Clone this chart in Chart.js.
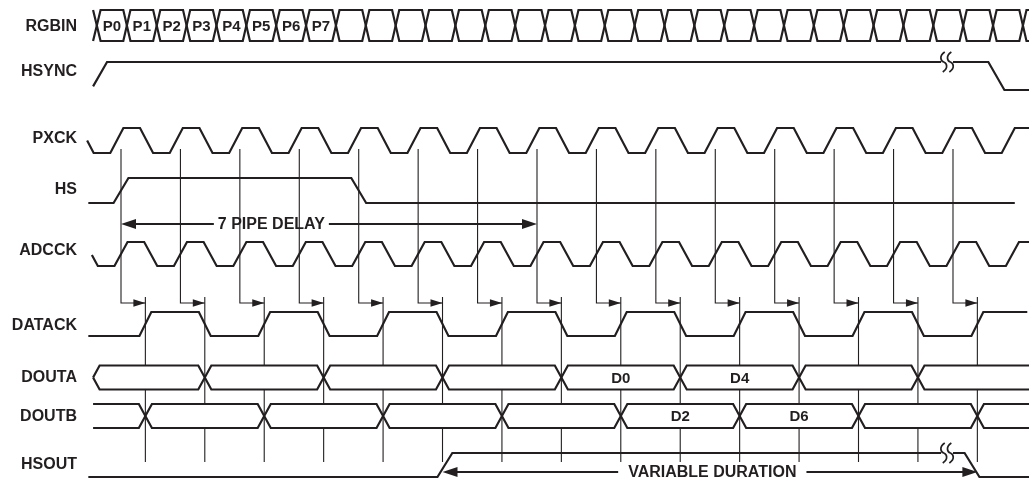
<!DOCTYPE html>
<html>
<head>
<meta charset="utf-8">
<script src="https://cdn.jsdelivr.net/npm/chart.js@4.4.1/dist/chart.umd.min.js"></script>
<style>
  html, body { margin: 0; padding: 0; background: #fff; }
  #wrap { width: 1029px; height: 481px; }
</style>
</head>
<body>
<div id="wrap"><canvas id="timing"></canvas></div>
<script>
// ---- data: times are in PXCK periods, 0 = PXCK edge that samples HS ----
const signals = ['RGBIN', 'HSYNC', 'PXCK', 'HS', 'ADCCK', 'DATACK', 'DOUTA', 'DOUTB', 'HSOUT'];
const cycles = [-1, 0, 1, 2, 3, 4, 5, 6, 7, 8, 9, 10, 11, 12, 13, 14, 15, 16];
const pipeCycles = [0, 1, 2, 3, 4, 5, 6, 7, 8, 9, 10, 11, 12, 13, 14]; // PXCK -> DATACK arrows
const pxckRise = -0.07, pxckFall = 0.43;
const adcckRise = 0, adcckFall = 0.5;
const datackDelay = 0.41;
const hsEdges = [0, 4];
const hsyncEdges = [-0.37, 14.73];
const hsoutEdges = [5.45, 14.32];
const doutaEdges = [1, 3, 5, 7, 9, 11, 13];      // DATACK cycles where DOUTA changes
const doutbEdges = [0, 2, 4, 6, 8, 10, 12, 14];  // DATACK cycles where DOUTB changes
const doutaLabels = ['', '', '', '', 'D0', 'D4', '', ''];
const doutbLabels = ['', '', '', '', '', 'D2', 'D6', '', ''];
const rgbinLabels = ['P0', 'P1', 'P2', 'P3', 'P4', 'P5', 'P6', 'P7'];
const rgbinFirst = -0.404, rgbinStep = 0.5026, rgbinCount = 32;
const pipeDelay = 7;
const breakAt = 13.9;

// ---- layout ----
const X_MIN = -0.589, X_MAX = 15.279;
const rows = {          // [high, low] on the y scale
  RGBIN: [10, 41], HSYNC: [62, 90], PXCK: [128, 153], HS: [178, 203], ADCCK: [242, 266],
  DATACK: [312, 336], DOUTA: [365.5, 389.5], DOUTB: [404, 428], HSOUT: [453, 477]
};
const labelY = [27, 72, 139, 190, 251, 326, 378, 417, 465];
const INK = '#231f20';
const FONT = '"Liberation Sans", Arial, Helvetica, sans-serif';

function ramps(row, level0, edges, ramp) {
  const [hi, lo] = rows[row];
  let l = level0;
  const pts = [{ x: -10, y: l ? hi : lo }];
  for (const e of edges) {
    pts.push({ x: e - ramp / 2, y: l ? hi : lo });
    l = 1 - l;
    pts.push({ x: e + ramp / 2, y: l ? hi : lo });
  }
  pts.push({ x: 30, y: l ? hi : lo });
  return pts;
}

function clip(pts, t0, t1) {
  const at = t => {
    for (let i = 1; i < pts.length; i++) {
      const a = pts[i - 1], b = pts[i];
      if (t <= b.x) {
        const f = b.x === a.x ? 0 : (t - a.x) / (b.x - a.x);
        return { x: t, y: a.y + (b.y - a.y) * f };
      }
    }
    return { x: t, y: pts[pts.length - 1].y };
  };
  return [at(t0), ...pts.filter(p => p.x > t0 && p.x < t1), at(t1)];
}

function withBreak(pts, t0, t1, gap) {
  return [...clip(pts, t0, breakAt - gap), { x: breakAt, y: null }, ...clip(pts, breakAt + gap, t1)];
}

function bus(row, t0, t1, edges, h, pointed) {
  const [top, bot] = rows[row];
  const mid = (top + bot) / 2;
  const a = [], b = [];
  if (pointed) {
    a.push({ x: t0, y: mid }, { x: t0 + h, y: top });
    b.push({ x: t0, y: mid }, { x: t0 + h, y: bot });
  } else {
    a.push({ x: t0, y: top });
    b.push({ x: t0, y: bot });
  }
  let up = true;
  for (const e of edges) {
    a.push({ x: e - h, y: up ? top : bot }, { x: e + h, y: up ? bot : top });
    b.push({ x: e - h, y: up ? bot : top }, { x: e + h, y: up ? top : bot });
    up = !up;
  }
  a.push({ x: t1, y: up ? top : bot });
  b.push({ x: t1, y: up ? bot : top });
  return [a, b];
}

const pxckEdges = cycles.flatMap(k => [k + pxckRise, k + pxckFall]);
const adcckEdges = cycles.flatMap(k => [k + adcckRise, k + adcckFall]);
const datackEdges = pipeCycles.map(k => k + datackDelay);
const rgbinEdges = Array.from({ length: rgbinCount }, (_, i) => rgbinFirst + i * rgbinStep);
const doutaT = doutaEdges.map(k => k + datackDelay);
const doutbT = doutbEdges.map(k => k + datackDelay);

// guide lines: PXCK edge down to the arrow, DATACK edge down through the outputs
const pxckGuides = [];
pipeCycles.forEach(k => {
  pxckGuides.push({ x: k, y: 149 }, { x: k, y: 303 }, { x: k + datackDelay, y: 303 }, { x: k, y: null });
});
const datackGuides = [];
pipeCycles.forEach(k => {
  const x = k + datackDelay;
  datackGuides.push({ x, y: 297 });
  if (!doutaEdges.includes(k)) {
    datackGuides.push({ x, y: rows.DOUTA[0] }, { x, y: null }, { x, y: rows.DOUTA[1] });
  }
  if (!doutbEdges.includes(k)) {
    datackGuides.push({ x, y: rows.DOUTB[0] }, { x, y: null }, { x, y: rows.DOUTB[1] });
  }
  datackGuides.push({ x, y: 462 }, { x, y: null });
});

const wave = (data, w = 2.2) => ({
  data, borderColor: INK, borderWidth: w, pointRadius: 0, tension: 0, fill: false
});

const [rgbA, rgbB] = bus('RGBIN', -0.47, X_MAX, rgbinEdges, 0.06, false);
const [daA, daB] = bus('DOUTA', -0.47, X_MAX, doutaT, 0.11, true);
const [dbA, dbB] = bus('DOUTB', -0.47, X_MAX, doutbT, 0.11, false);

const datasets = [
  wave(pxckGuides, 1.1), wave(datackGuides, 1.1),
  wave(rgbA), wave(rgbB),
  wave(withBreak(ramps('HSYNC', 0, hsyncEdges, 0.27), -0.47, X_MAX, 0.1)),
  wave(clip(ramps('PXCK', 0, pxckEdges, 0.22), -0.57, X_MAX)),
  wave(clip(ramps('HS', 0, hsEdges, 0.25), -0.55, 15.04)),
  wave(clip(ramps('ADCCK', 0, adcckEdges, 0.22), -0.49, X_MAX)),
  wave(clip(ramps('DATACK', 0, datackEdges, 0.2), -0.55, 15.25)),
  wave(daA), wave(daB), wave(dbA), wave(dbB),
  wave(withBreak(ramps('HSOUT', 0, hsoutEdges, 0.25), -0.55, X_MAX, 0.1))
];

function head(ctx, x, y, dir, len, half) {
  ctx.beginPath();
  ctx.moveTo(x, y);
  ctx.lineTo(x - dir * len, y - half);
  ctx.lineTo(x - dir * len, y + half);
  ctx.closePath();
  ctx.fill();
}

// break mark: two small "S" strokes across the line
function squiggle(ctx, x, y) {
  [-3.3, 3.3].forEach(dx => {
    ctx.beginPath();
    ctx.moveTo(x + dx + 1, y - 10);
    ctx.bezierCurveTo(x + dx - 5, y - 6, x + dx - 3, y - 1, x + dx, y);
    ctx.bezierCurveTo(x + dx + 3, y + 1, x + dx + 5, y + 6, x + dx - 1, y + 10);
    ctx.stroke();
  });
}

const annotate = {
  id: 'annotate',
  afterDatasetsDraw(chart) {
    const { ctx } = chart;
    const X = v => chart.scales.x.getPixelForValue(v);
    const Y = v => chart.scales.y.getPixelForValue(v);
    ctx.save();
    ctx.fillStyle = INK;
    ctx.strokeStyle = INK;

    pipeCycles.forEach(k => head(ctx, X(k + datackDelay), Y(303), 1, 12, 3.8));

    const dim = (t1, t2, y, text, tc, gap) => {
      ctx.font = 'bold 16px ' + FONT;
      const w = ctx.measureText(text).width;
      const x1 = X(t1), x2 = X(t2), xc = X(tc), py = Y(y);
      ctx.lineWidth = 2.2;
      ctx.beginPath();
      ctx.moveTo(x1 + 6, py); ctx.lineTo(xc - w / 2 - gap, py);
      ctx.moveTo(xc + w / 2 + gap, py); ctx.lineTo(x2 - 6, py);
      ctx.stroke();
      head(ctx, x1, py, -1, 15, 5);
      head(ctx, x2, py, 1, 15, 5);
      ctx.textAlign = 'center';
      ctx.textBaseline = 'middle';
      ctx.fillText(text, xc, py + 1);
    };
    dim(0, pipeDelay, 224, '7 PIPE DELAY', 2.53, 4);
    dim(hsoutEdges[0] - 0.04, hsoutEdges[1] + 0.09, 472, 'VARIABLE DURATION', 9.95, 10);

    ctx.lineWidth = 1.7;
    squiggle(ctx, X(breakAt), Y(rows.HSYNC[0]));
    squiggle(ctx, X(breakAt), Y(rows.HSOUT[0]));

    ctx.textAlign = 'center';
    ctx.textBaseline = 'middle';
    ctx.font = 'bold 15px ' + FONT;
    const midY = r => Y((rows[r][0] + rows[r][1]) / 2) + 1;
    rgbinLabels.forEach((s, i) => ctx.fillText(s, X(rgbinEdges[i] + rgbinStep / 2), midY('RGBIN')));
    const segLabels = (row, labels, edges) => {
      labels.forEach((s, i) => {
        if (!s) return;
        ctx.fillText(s, X((edges[i - 1] + edges[i]) / 2), midY(row));
      });
    };
    segLabels('DOUTA', doutaLabels, doutaT);
    segLabels('DOUTB', doutbLabels, doutbT);
    ctx.restore();
  }
};

new Chart(document.getElementById('timing'), {
  type: 'line',
  data: { datasets },
  options: {
    responsive: true,
    maintainAspectRatio: false,
    animation: false,
    events: [],
    layout: { padding: 0 },
    plugins: { legend: { display: false }, tooltip: { enabled: false } },
    scales: {
      x: { type: 'linear', min: X_MIN, max: X_MAX, display: false },
      y: {
        type: 'linear', min: 0, max: 481, reverse: true,
        afterBuildTicks: s => { s.ticks = labelY.map(v => ({ value: v })); },
        afterFit: s => { s.width = 86; s.paddingTop = 0; s.paddingBottom = 0; },
        grid: { display: false, drawTicks: false },
        border: { display: false },
        ticks: {
          autoSkip: false,
          padding: 9,
          color: INK,
          font: { family: FONT, size: 16, weight: 'bold' },
          callback: (v, i) => signals[i]
        }
      }
    }
  },
  plugins: [annotate]
});
</script>
</body>
</html>
